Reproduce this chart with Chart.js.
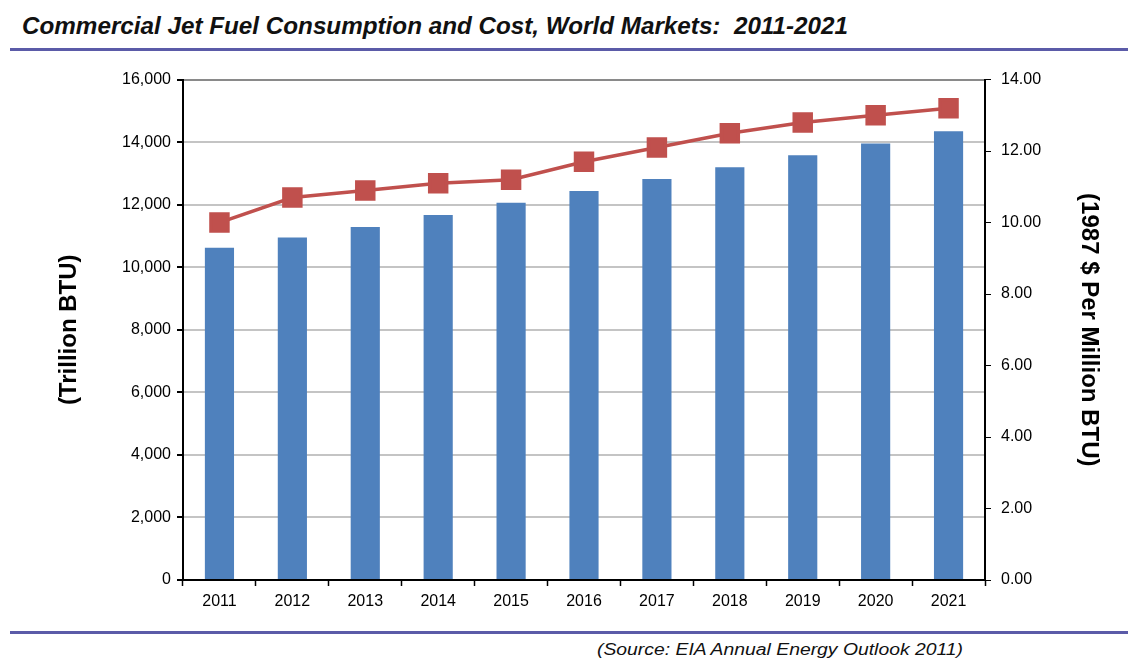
<!DOCTYPE html>
<html>
<head>
<meta charset="utf-8">
<script src="https://cdn.jsdelivr.net/npm/chart.js@4/dist/chart.umd.min.js"></script>
<style>
  html, body { margin: 0; padding: 0; background: #fff; }
  body { width: 1128px; height: 659px; position: relative; overflow: hidden; font-family: "Liberation Sans", Arial, sans-serif; }
  #title { position: absolute; left: 22px; top: 12px; font: italic bold 24px "Liberation Sans Narrow", "Liberation Sans", Arial, sans-serif; color: #111; white-space: nowrap; transform-origin: 0 0; }
  .rule { position: absolute; left: 10px; right: 0; height: 3px; background: #5b5ba8; }
  #source { position: absolute; left: 597px; top: 641px; font: italic 16px "Liberation Sans", Arial, sans-serif; color: #111; white-space: nowrap; transform-origin: 0 0; }
  #wrap { position: absolute; left: 0; top: 60px; width: 1128px; height: 560px; }
</style>
</head>
<body>
<div id="title">Commercial Jet Fuel Consumption and Cost, World Markets:&nbsp; 2011-2021</div>
<div class="rule" style="top:48px"></div>
<div id="wrap"><canvas id="fuel"></canvas></div>
<div class="rule" style="top:631px"></div>
<div id="source">(Source: EIA Annual Energy Outlook 2011)</div>
<script>
const years = ['2011', '2012', '2013', '2014', '2015', '2016', '2017', '2018', '2019', '2020', '2021'];
const consumption = [10620, 10950, 11290, 11670, 12060, 12440, 12820, 13200, 13580, 13960, 14350];
const cost = [10.0, 10.7, 10.9, 11.1, 11.2, 11.7, 12.1, 12.5, 12.8, 13.0, 13.2];

(function () {
  // squeeze the headline texts to the width they have in the picture
  function fitWidth(id, w) {
    const el = document.getElementById(id);
    const s = w / el.getBoundingClientRect().width;
    el.style.transform = 'scaleX(' + s + ')';
  }
  fitWidth('title', 826);
  fitWidth('source', 366);

  const black = '#000';
  const ctx = document.getElementById('fuel').getContext('2d');

  new Chart(ctx, {
    data: {
      labels: years,
      datasets: [
        {
          type: 'line',
          label: 'Cost',
          data: cost,
          yAxisID: 'y2',
          borderColor: '#c0504d',
          backgroundColor: '#c0504d',
          borderWidth: 3.5,
          pointStyle: 'rect',
          pointRadius: 12,
          pointHoverRadius: 12,
          tension: 0,
          order: 0,
        },
        {
          type: 'bar',
          label: 'Consumption',
          data: consumption,
          yAxisID: 'y',
          backgroundColor: '#4f81bd',
          barPercentage: 0.4,
          categoryPercentage: 1,
          order: 1,
        },
      ],
    },
    options: {
      responsive: true,
      maintainAspectRatio: false,
      animation: false,
      layout: { padding: { left: 55, right: 25, top: 17, bottom: 0 } },
      plugins: { legend: { display: false }, tooltip: { enabled: false } },
      scales: {
        x: {
          offset: true,
          grid: { offset: true, drawOnChartArea: false, tickColor: black, tickLength: 6, tickWidth: 1.5 },
          border: { color: black, width: 2 },
          ticks: { color: '#000', font: { size: 16 }, padding: 6 },
          afterFit: (s) => { s.height = 40; },
        },
        y: {
          position: 'left',
          min: 0,
          max: 16000,
          ticks: {
            stepSize: 2000,
            color: '#000',
            font: { size: 16 },
            padding: 6,
            callback: (v) => v.toLocaleString('en-US'),
          },
          grid: {
            color: (c) => (c.tick && c.tick.value === 16000 ? '#8a8a8a' : '#c4c4c4'),
            lineWidth: 2,
            tickColor: black,
            tickLength: 6,
          },
          border: { color: black, width: 2 },
          title: {
            display: true,
            text: '(Trillion BTU)',
            color: '#000',
            font: { size: 24, weight: 'bold' },
            padding: { top: 0, bottom: 0 },
          },
          afterFit: (s) => { s.width = 128; },
        },
        y2: {
          position: 'right',
          min: 0,
          max: 14,
          ticks: {
            stepSize: 2,
            color: '#000',
            font: { size: 16 },
            padding: 10,
            callback: (v) => Number(v).toFixed(2),
          },
          grid: { drawOnChartArea: false, tickColor: black, tickLength: 6 },
          border: { color: black, width: 2 },
          title: {
            display: true,
            text: '(1987 $ Per Million BTU)',
            color: '#000',
            font: { size: 24, weight: 'bold' },
            padding: { top: 0, bottom: 0 },
          },
          afterFit: (s) => { s.width = 118; },
        },
      },
    },
  });
})();
</script>
</body>
</html>
